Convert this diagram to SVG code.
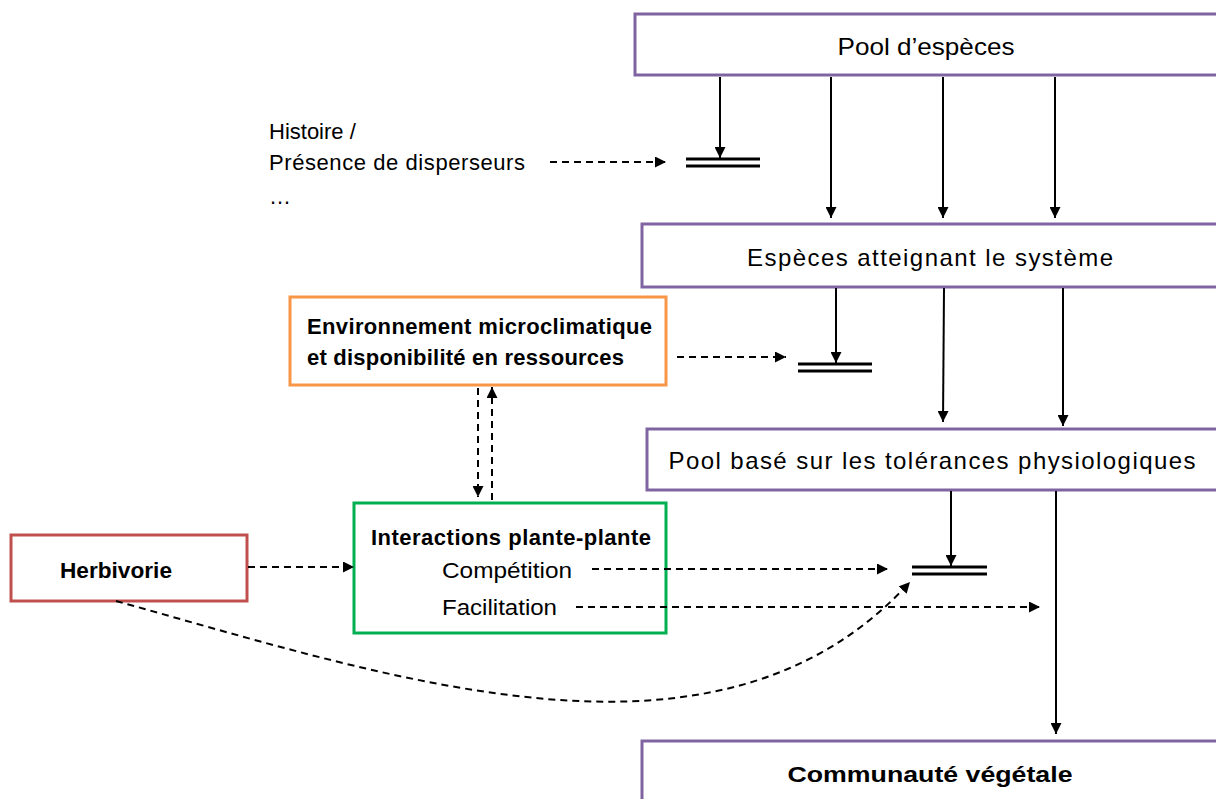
<svg xmlns="http://www.w3.org/2000/svg" width="1216" height="799" viewBox="0 0 1216 799">
<defs>
<style>
.box{fill:#fff;stroke-width:3}
.purple{stroke:#8064A2}
.t{font-family:"Liberation Sans",Arial,sans-serif;font-size:22px;fill:#000}
.big{font-size:24px}
.b{font-weight:bold}
.ln{stroke:#000;stroke-width:2;fill:none}
.dash{stroke-dasharray:7,5}
.bar{stroke:#000;stroke-width:3}
</style>
<marker id="ah" viewBox="0 0 10 10" refX="10" refY="5" markerWidth="11" markerHeight="11" markerUnits="userSpaceOnUse" orient="auto">
<path d="M0,0 L10,5 L0,10 z" fill="#000"/>
</marker>
</defs>
<rect width="1216" height="799" fill="#fff"/>

<g id="pool">
<rect class="box purple" x="635" y="14" width="590" height="61"/>
<text class="t big" x="926" y="55" text-anchor="middle" textLength="177" lengthAdjust="spacingAndGlyphs">Pool d’espèces</text>
</g>
<g id="atteignant">
<rect class="box purple" x="642" y="224" width="590" height="63"/>
<text class="t big" x="930" y="266" text-anchor="middle" textLength="366" lengthAdjust="spacing">Espèces atteignant le système</text>
</g>
<g id="tolerances">
<rect class="box purple" x="647" y="429" width="585" height="61"/>
<text class="t big" x="932" y="469" text-anchor="middle" textLength="527" lengthAdjust="spacing">Pool basé sur les tolérances physiologiques</text>
</g>
<g id="communaute">
<rect class="box purple" x="642" y="741" width="590" height="70"/>
<text class="t b" x="930" y="782" text-anchor="middle" font-size="25" textLength="285" lengthAdjust="spacingAndGlyphs">Communauté végétale</text>
</g>
<g id="histoire">
<text class="t" x="269" y="139">Histoire /</text>
<text class="t" x="269" y="170" textLength="256" lengthAdjust="spacing">Présence de disperseurs</text>
<text class="t" x="269" y="204">…</text>
</g>
<g id="environnement">
<rect class="box" stroke="#F79646" x="290" y="297" width="376" height="88"/>
<text class="t b" x="307" y="334" textLength="345" lengthAdjust="spacing">Environnement microclimatique</text>
<text class="t b" x="307" y="365" textLength="317" lengthAdjust="spacing">et disponibilité en ressources</text>
</g>
<g id="interactions">
<rect class="box" stroke="#00B050" x="354" y="503" width="312" height="130"/>
<text class="t b" x="371" y="545" textLength="280" lengthAdjust="spacing">Interactions plante-plante</text>
<text class="t" x="442" y="578" font-size="24" textLength="130" lengthAdjust="spacingAndGlyphs">Compétition</text>
<text class="t" x="442" y="615" font-size="24" textLength="115" lengthAdjust="spacingAndGlyphs">Facilitation</text>
</g>
<g id="herbivorie">
<rect class="box" stroke="#C0504D" x="11" y="535" width="236" height="66"/>
<text class="t b" x="60" y="578" textLength="112" lengthAdjust="spacingAndGlyphs">Herbivorie</text>
</g>

<g id="connectors">
<line class="bar" x1="686" y1="159" x2="760" y2="159"/>
<line class="bar" x1="686" y1="166" x2="760" y2="166"/>
<line class="bar" x1="798" y1="364" x2="872" y2="364"/>
<line class="bar" x1="798" y1="371" x2="872" y2="371"/>
<line class="bar" x1="912" y1="567" x2="987" y2="567"/>
<line class="bar" x1="912" y1="574" x2="987" y2="574"/>
<line class="ln" x1="720" y1="77" x2="720" y2="158" marker-end="url(#ah)"/>
<line class="ln" x1="831" y1="77" x2="831" y2="218" marker-end="url(#ah)"/>
<line class="ln" x1="943" y1="77" x2="943" y2="218" marker-end="url(#ah)"/>
<line class="ln" x1="1055" y1="77" x2="1055" y2="218" marker-end="url(#ah)"/>
<line class="ln" x1="836" y1="288" x2="836" y2="363" marker-end="url(#ah)"/>
<line class="ln" x1="944" y1="288" x2="943" y2="422" marker-end="url(#ah)"/>
<line class="ln" x1="1063" y1="288" x2="1063" y2="426" marker-end="url(#ah)"/>
<line class="ln" x1="951" y1="491" x2="951" y2="566" marker-end="url(#ah)"/>
<line class="ln" x1="1056" y1="491" x2="1056" y2="734" marker-end="url(#ah)"/>
<line class="ln dash" x1="550" y1="162" x2="666" y2="162" marker-end="url(#ah)"/>
<line class="ln dash" x1="677" y1="357" x2="786" y2="357" marker-end="url(#ah)"/>
<line class="ln dash" x1="478" y1="388" x2="478" y2="497" marker-end="url(#ah)"/>
<line class="ln dash" x1="492" y1="500" x2="492" y2="387" marker-end="url(#ah)"/>
<line class="ln dash" x1="248" y1="567" x2="354" y2="567" marker-end="url(#ah)"/>
<line class="ln dash" x1="592" y1="569" x2="888" y2="569" marker-end="url(#ah)"/>
<line class="ln dash" x1="576" y1="607" x2="1040" y2="607" marker-end="url(#ah)"/>
<path class="ln dash" d="M116,601 C400,680 720,790 910,582" marker-end="url(#ah)"/>
</g>
</svg>
